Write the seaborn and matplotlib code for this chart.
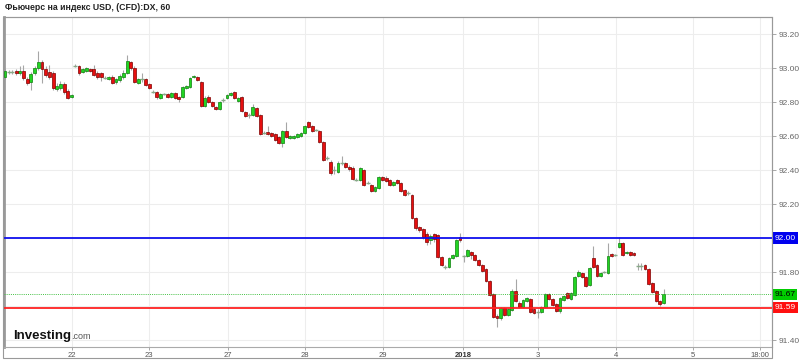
import matplotlib
matplotlib.use("Agg")
import matplotlib.pyplot as plt
import seaborn as sns
import numpy as np
import pandas as pd
from matplotlib.patches import Rectangle

# ---------------- data (hourly candles) ----------------
opens = [
    92.947, 92.976, 92.976, 92.982, 92.971, 92.982, 92.935, 92.918, 92.971, 93.000,
    93.035, 92.994, 92.976, 92.971, 92.876, 92.882, 92.906, 92.865, 92.829, 93.012,
    93.012, 92.976, 92.982, 92.994, 92.994, 92.971, 92.971, 92.941, 92.935, 92.947,
    92.918, 92.929, 92.947, 92.971, 93.035, 93.000, 92.912, 92.935, 92.935, 92.906,
    92.859, 92.859, 92.824, 92.847, 92.847, 92.829, 92.853, 92.829, 92.829, 92.882,
    92.888, 92.947, 92.947, 92.918, 92.777, 92.829, 92.800, 92.771, 92.759, 92.812,
    92.824, 92.841, 92.859, 92.806, 92.829, 92.741, 92.724, 92.724, 92.765, 92.724,
    92.618, 92.624, 92.618, 92.612, 92.594, 92.559, 92.629, 92.588, 92.588, 92.594,
    92.600, 92.618, 92.682, 92.659, 92.635, 92.629, 92.565, 92.471, 92.447, 92.400,
    92.388, 92.441, 92.441, 92.418, 92.412, 92.341, 92.341, 92.400, 92.324, 92.312,
    92.276, 92.294, 92.359, 92.353, 92.341, 92.312, 92.341, 92.324, 92.282, 92.265,
    92.253, 92.118, 92.065, 92.053, 92.024, 91.988, 92.024, 92.018, 91.888, 91.829,
    91.829, 91.882, 91.894, 92.006, 91.894, 91.894, 91.918, 91.900, 91.871, 91.841,
    91.818, 91.747, 91.671, 91.541, 91.529, 91.588, 91.547, 91.576, 91.688, 91.618,
    91.594, 91.629, 91.641, 91.582, 91.565, 91.565, 91.594, 91.671, 91.641, 91.612,
    91.571, 91.635, 91.676, 91.641, 91.665, 91.776, 91.794, 91.771, 91.724, 91.882,
    91.841, 91.776, 91.800, 91.794, 91.906, 91.900, 91.947, 91.971, 91.912, 91.918,
    91.912, 91.835, 91.835, 91.841, 91.818, 91.735, 91.688, 91.629, 91.618,
]
highs = [
    92.994, 92.988, 92.988, 92.994, 93.012, 93.018, 92.947, 92.976, 93.012, 93.100,
    93.047, 93.012, 93.018, 92.982, 92.912, 92.924, 92.918, 92.876, 92.847, 93.024,
    93.018, 93.000, 93.006, 93.000, 93.018, 92.982, 92.976, 92.953, 92.953, 92.959,
    92.941, 92.965, 92.988, 93.076, 93.041, 93.012, 92.941, 92.971, 92.941, 92.912,
    92.871, 92.865, 92.853, 92.853, 92.853, 92.859, 92.859, 92.835, 92.894, 92.900,
    92.947, 92.959, 92.953, 92.924, 92.835, 92.841, 92.806, 92.777, 92.806, 92.824,
    92.847, 92.859, 92.865, 92.829, 92.835, 92.747, 92.735, 92.788, 92.771, 92.730,
    92.629, 92.659, 92.624, 92.618, 92.600, 92.635, 92.682, 92.606, 92.606, 92.618,
    92.624, 92.665, 92.688, 92.665, 92.641, 92.635, 92.571, 92.482, 92.459, 92.424,
    92.453, 92.482, 92.447, 92.429, 92.424, 92.353, 92.418, 92.406, 92.335, 92.318,
    92.306, 92.365, 92.365, 92.365, 92.347, 92.335, 92.347, 92.329, 92.288, 92.276,
    92.259, 92.124, 92.071, 92.059, 92.035, 92.024, 92.029, 92.024, 91.894, 91.841,
    91.888, 91.906, 91.994, 92.029, 91.900, 91.935, 91.924, 91.906, 91.876, 91.847,
    91.824, 91.753, 91.676, 91.553, 91.594, 91.594, 91.588, 91.700, 91.759, 91.629,
    91.641, 91.653, 91.647, 91.588, 91.582, 91.600, 91.676, 91.676, 91.647, 91.618,
    91.653, 91.665, 91.682, 91.682, 91.776, 91.812, 91.800, 91.776, 91.829, 91.953,
    91.847, 91.800, 91.806, 91.971, 91.912, 91.906, 92.006, 91.976, 91.924, 91.924,
    91.918, 91.853, 91.853, 91.847, 91.824, 91.741, 91.694, 91.635, 91.700,
]
lows = [
    92.935, 92.965, 92.965, 92.959, 92.959, 92.929, 92.900, 92.871, 92.959, 92.988,
    92.912, 92.947, 92.935, 92.871, 92.865, 92.871, 92.847, 92.818, 92.824, 93.006,
    92.959, 92.971, 92.976, 92.976, 92.953, 92.935, 92.924, 92.935, 92.929, 92.906,
    92.906, 92.918, 92.935, 92.965, 92.988, 92.912, 92.906, 92.918, 92.894, 92.876,
    92.853, 92.818, 92.818, 92.841, 92.824, 92.824, 92.818, 92.800, 92.824, 92.876,
    92.882, 92.941, 92.924, 92.771, 92.771, 92.794, 92.771, 92.753, 92.753, 92.800,
    92.818, 92.835, 92.818, 92.800, 92.741, 92.712, 92.706, 92.718, 92.712, 92.606,
    92.612, 92.606, 92.594, 92.571, 92.553, 92.535, 92.588, 92.582, 92.582, 92.588,
    92.594, 92.612, 92.647, 92.624, 92.629, 92.559, 92.453, 92.459, 92.371, 92.376,
    92.382, 92.429, 92.412, 92.394, 92.341, 92.335, 92.335, 92.306, 92.318, 92.271,
    92.271, 92.288, 92.335, 92.329, 92.306, 92.306, 92.318, 92.271, 92.247, 92.253,
    92.112, 92.047, 92.035, 91.994, 91.959, 91.965, 91.976, 91.882, 91.835, 91.818,
    91.824, 91.876, 91.888, 91.976, 91.859, 91.888, 91.876, 91.865, 91.835, 91.800,
    91.741, 91.659, 91.529, 91.476, 91.518, 91.541, 91.541, 91.571, 91.624, 91.588,
    91.588, 91.624, 91.559, 91.553, 91.529, 91.559, 91.588, 91.635, 91.600, 91.565,
    91.559, 91.629, 91.641, 91.635, 91.659, 91.771, 91.765, 91.712, 91.718, 91.824,
    91.771, 91.771, 91.794, 91.788, 91.888, 91.894, 91.941, 91.894, 91.906, 91.894,
    91.894, 91.812, 91.812, 91.812, 91.724, 91.676, 91.624, 91.600, 91.612,
]
closes = [
    92.982, 92.976, 92.976, 92.971, 92.982, 92.941, 92.912, 92.965, 93.000, 93.035,
    92.994, 92.959, 92.947, 92.882, 92.894, 92.906, 92.859, 92.824, 92.841, 93.012,
    92.971, 92.994, 93.000, 92.982, 92.959, 92.947, 92.947, 92.941, 92.947, 92.912,
    92.935, 92.953, 92.971, 93.041, 93.000, 92.918, 92.935, 92.935, 92.900, 92.882,
    92.859, 92.829, 92.847, 92.847, 92.829, 92.853, 92.824, 92.818, 92.888, 92.894,
    92.941, 92.953, 92.929, 92.777, 92.824, 92.800, 92.777, 92.759, 92.800, 92.812,
    92.841, 92.853, 92.824, 92.824, 92.747, 92.718, 92.724, 92.771, 92.718, 92.612,
    92.618, 92.612, 92.600, 92.576, 92.559, 92.629, 92.594, 92.600, 92.600, 92.612,
    92.618, 92.659, 92.653, 92.629, 92.635, 92.565, 92.459, 92.471, 92.382, 92.400,
    92.441, 92.441, 92.418, 92.406, 92.347, 92.341, 92.412, 92.312, 92.324, 92.276,
    92.300, 92.359, 92.341, 92.335, 92.312, 92.329, 92.324, 92.276, 92.253, 92.265,
    92.118, 92.059, 92.047, 92.006, 91.976, 92.012, 91.994, 91.888, 91.841, 91.829,
    91.882, 91.900, 91.988, 91.988, 91.894, 91.929, 91.900, 91.871, 91.841, 91.806,
    91.747, 91.665, 91.535, 91.529, 91.588, 91.547, 91.582, 91.688, 91.629, 91.594,
    91.635, 91.647, 91.565, 91.559, 91.565, 91.594, 91.671, 91.641, 91.606, 91.571,
    91.647, 91.659, 91.647, 91.676, 91.771, 91.800, 91.771, 91.718, 91.824, 91.829,
    91.776, 91.794, 91.800, 91.894, 91.894, 91.900, 91.971, 91.900, 91.918, 91.900,
    91.900, 91.835, 91.835, 91.818, 91.729, 91.682, 91.629, 91.612, 91.671,
]

# candle index at which each axis label (day start) falls
day_labels = ["22", "23", "27", "28", "29", "2018", "3", "4", "5", "18:00"]
day_start_index = [18.1, 38.9, 60.3, 81.1, 102.2, 123.8, 144.1, 165.1, 185.9, 204.0]

price_ticks = [91.40, 91.60, 91.80, 92.00, 92.20, 92.40, 92.60, 92.80, 93.00, 93.20]
resistance_level = 92.00
support_level = 91.59
last_price = 91.67

title_text = "Фьючерс на индекс USD, (CFD):DX, 60"

# ---------------- style ----------------
sns.set_theme(style="white")
plt.rcParams["font.family"] = ["Liberation Sans", "DejaVu Sans"]

n = min(len(opens), len(highs), len(lows), len(closes))
df = pd.DataFrame({
    "open": opens[:n], "high": highs[:n], "low": lows[:n], "close": closes[:n],
})
df["idx"] = np.arange(n)
up = df["close"] > df["open"]
down = df["close"] < df["open"]
flat = df["close"] == df["open"]

fig = plt.figure(figsize=(8, 3.6), dpi=100)
ax = fig.add_axes([4 / 800, 13 / 360, 768 / 800, 330 / 360])

# wicks
ax.vlines(df["idx"], df["low"], df["high"], color="#a6a6a6", lw=0.8, zorder=2)
# bodies
bw = 0.76
ax.bar(df.loc[up, "idx"], (df["close"] - df["open"])[up], bottom=df.loc[up, "open"],
       width=bw, color="#22d422", edgecolor="#0d7f0d", linewidth=0.5, zorder=3)
ax.bar(df.loc[down, "idx"], (df["open"] - df["close"])[down], bottom=df.loc[down, "close"],
       width=bw, color="#e60f0f", edgecolor="#7d0000", linewidth=0.5, zorder=3)
sns.scatterplot(data=df[flat], x="idx", y="close", marker="_", s=9, linewidth=1.0,
                color="#88aa88", ax=ax, zorder=3, legend=False)

# levels
ax.axhline(resistance_level, color="#1010ee", lw=1.3, zorder=4)
ax.axhline(support_level, color="#ff2222", lw=1.3, zorder=4)
ax.axhline(last_price, color="#44c044", lw=0.7, ls=(0, (1, 1.2)), zorder=4)

ax.set_xlim(-0.27, 207.3)
ax.set_ylim(91.359, 93.30)

# grid
ax.set_xticks(day_start_index)
ax.set_yticks(price_ticks)
ax.grid(True, color="#ededed", lw=0.8)
ax.set_axisbelow(True)

# axis labels (labels hidden where the level boxes cover them)
covered = {f"{resistance_level:.2f}", "91.60"}
ax.yaxis.tick_right()
ax.set_yticklabels(["" if f"{v:.2f}" in covered else f"{v:.2f}" for v in price_ticks])
ax.tick_params(axis="y", which="both", right=True, left=False, length=3, width=0.6,
               color="#999999", labelsize=6, labelcolor="#666666", pad=1.5)
ax.set_xticklabels(day_labels)
ax.tick_params(axis="x", which="both", bottom=True, length=2, width=0.6,
               color="#999999", labelsize=5.5, labelcolor="#555555", pad=1.5)
for lbl in ax.get_xticklabels():
    if lbl.get_text() == "2018":
        lbl.set_fontweight("bold")
        lbl.set_color("#333333")
ax.set_xlabel("")
ax.set_ylabel("")

for side in ["top", "right", "bottom"]:
    ax.spines[side].set_color("#aaaaaa")
    ax.spines[side].set_linewidth(0.8)
ax.spines["left"].set_color("#9a9a9a")
ax.spines["left"].set_linewidth(2.0)

# right-side price boxes
ytr = ax.get_yaxis_transform()
def price_box(val, fc, tc):
    ax.text(1.003, val, f"{val:.2f}", transform=ytr, ha="left", va="center",
            fontsize=6, color=tc, zorder=6, clip_on=False,
            bbox=dict(boxstyle="square,pad=0.25", fc=fc, ec="none"))
price_box(resistance_level, "#0000ee", "white")
price_box(last_price, "#00cc00", "black")
price_box(support_level, "#ff1010", "white")

# outer frame including the date strip
fig.patches.append(Rectangle((3 / 800, 2 / 360), 769 / 800, 341 / 360,
                             transform=fig.transFigure, fill=False,
                             ec="#999999", lw=0.8))

# title
fig.text(5 / 800, 1 - 8 / 360, title_text, fontsize=6.3, fontweight="bold",
         color="#222222", ha="left", va="center")

# logo
t1 = fig.text(13 / 800, 21 / 360, "Investing", fontsize=9.5, fontweight="bold",
              color="#111111", ha="left", va="baseline")
fig.canvas.draw()
bb = t1.get_window_extent()
fig.text(bb.x1 / 800, 21 / 360, ".com", fontsize=6.5, color="#555555",
         ha="left", va="baseline")

fig.savefig("out.png", dpi=100)
